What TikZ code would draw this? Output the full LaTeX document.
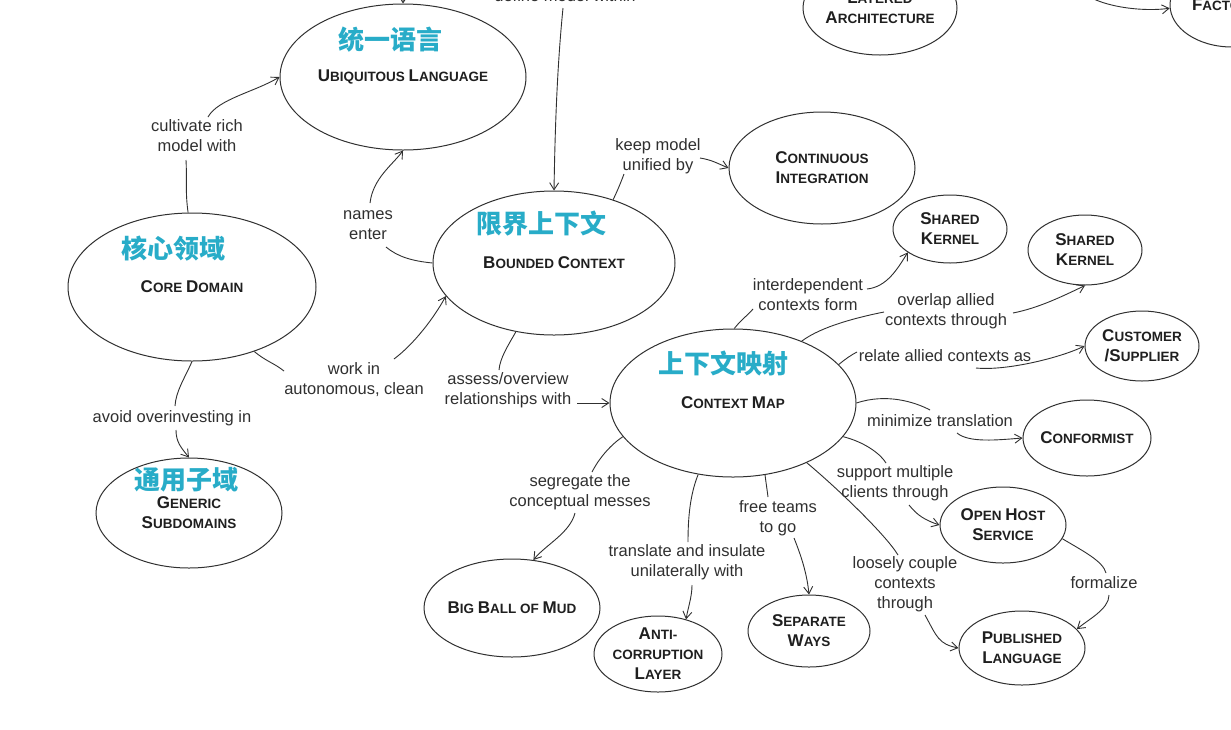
\documentclass[tikz,border=0pt]{standalone}
\usepackage{fontspec}
\setmainfont{Liberation Sans}
\newfontfamily\cjk{Noto Sans CJK SC}
\usetikzlibrary{arrows.meta,calc,shapes.geometric}
\definecolor{zh}{RGB}{40,172,200}
\definecolor{ink}{RGB}{48,48,48}
\newcommand\ttl[2]{{\fontsize{17}{20}\selectfont #1}{\fontsize{13.5}{20}\selectfont #2}}
\begin{document}
\begin{tikzpicture}[x=1pt,y=-1pt,
  ent/.style={ellipse,draw=ink,line width=1pt,inner sep=-10pt,align=center,font=\bfseries\fontsize{13.5}{20}\selectfont,text=black!88},
  lbl/.style={align=center,inner sep=0pt,font=\fontsize{16.5}{20}\selectfont,text=ink},
  zhl/.style={font=\cjk\bfseries\fontsize{26}{30}\selectfont,text=zh,inner sep=0pt},
  con/.style={draw=ink,line width=0.9pt},
  arr/.style={con,-{Straight Barb[length=7pt,width=9pt]}}]
\useasboundingbox (0,0) rectangle (1231,729);
\fill[white] (0,0) rectangle (1231,729);
\clip (0,0) rectangle (1231,729);

% entities
\node[ent,minimum width=246pt,minimum height=146pt] (ul) at (403,77) {\ttl{U}{BIQUITOUS} \ttl{L}{ANGUAGE}};
\node[ent,minimum width=248pt,minimum height=148pt] (cd) at (192,287) {\ttl{C}{ORE} \ttl{D}{OMAIN}};
\node[ent,minimum width=186pt,minimum height=110pt] (gs) at (189,513) {\ttl{G}{ENERIC}\\\ttl{S}{UBDOMAINS}};
\node[ent,minimum width=242pt,minimum height=144pt] (bc) at (554,263) {\ttl{B}{OUNDED} \ttl{C}{ONTEXT}};
\node[ent,minimum width=186pt,minimum height=112pt] (ci) at (822,168) {\ttl{C}{ONTINUOUS}\\\ttl{I}{NTEGRATION}};
\node[ent,minimum width=154pt,minimum height=94pt] (la) at (880,8) {\ttl{L}{AYERED}\\\ttl{A}{RCHITECTURE}};
\node[ent,minimum width=124pt,minimum height=84pt] (fa) at (1232,5) {\ttl{F}{ACTORIES}};
\node[ent,minimum width=114pt,minimum height=68pt] (sk1) at (950,229) {\ttl{S}{HARED}\\\ttl{K}{ERNEL}};
\node[ent,minimum width=114pt,minimum height=70pt] (sk2) at (1085,250) {\ttl{S}{HARED}\\\ttl{K}{ERNEL}};
\node[ent,minimum width=114pt,minimum height=70pt] (cs) at (1142,346) {\ttl{C}{USTOMER}\\\ttl{/S}{UPPLIER}};
\node[ent,minimum width=128pt,minimum height=76pt] (cf) at (1087,438) {\ttl{C}{ONFORMIST}};
\node[ent,minimum width=246pt,minimum height=148pt] (cm) at (733,403) {\ttl{C}{ONTEXT} \ttl{M}{AP}};
\node[ent,minimum width=126pt,minimum height=76pt] (ohs) at (1003,525) {\ttl{O}{PEN} \ttl{H}{OST}\\\ttl{S}{ERVICE}};
\node[ent,minimum width=126pt,minimum height=74pt] (pl) at (1022,648) {\ttl{P}{UBLISHED}\\\ttl{L}{ANGUAGE}};
\node[ent,minimum width=122pt,minimum height=72pt] (sw) at (809,631) {\ttl{S}{EPARATE}\\\ttl{W}{AYS}};
\node[ent,minimum width=128pt,minimum height=76pt] (acl) at (658,654) {\ttl{A}{NTI-}\\\ttl{}{CORRUPTION}\\\ttl{L}{AYER}};
\node[ent,minimum width=176pt,minimum height=98pt] (bbm) at (512,608) {\ttl{B}{IG} \ttl{B}{ALL} \ttl{}{OF} \ttl{M}{UD}};

% chinese titles
\node[zhl] (ulz) at (390,40) {统一语言};
\node[zhl] (cdz) at (173,249) {核心领域};
\node[zhl] (gsz) at (186,480) {通用子域};
\node[zhl] (bcz) at (541,224) {限界上下文};
\node[zhl] (cmz) at (723,363) {上下文映射};

% labels
\node[lbl] (l1) at (197,136) {cultivate rich\\model with};
\node[lbl] (l2) at (368,225) {names\\enter};
\node[lbl] (l3) at (354,380) {work in\\autonomous, clean};
\node[lbl] (l4) at (172,418) {avoid overinvesting in};
\node[lbl] (l5) at (565,-4) {define model within};
\node[lbl] (l6) at (658,156) {keep model\\unified by};
\node[lbl] (l7) at (508,390) {assess/overview\\relationships with};
\node[lbl] (l8) at (808,295) {interdependent\\contexts form};
\node[lbl] (l9) at (946,311) {overlap allied\\contexts through};
\node[lbl] (l10) at (945,356) {relate allied contexts as};
\node[lbl] (l11) at (940,421) {minimize translation};
\node[lbl] (l12) at (895,483) {support multiple\\clients through};
\node[lbl] (l13) at (905,584) {loosely couple\\contexts\\through};
\node[lbl] (l14) at (1104,583) {formalize};
\node[lbl] (l15) at (778,518) {free teams\\to go};
\node[lbl] (l16) at (687,562) {translate and insulate\\unilaterally with};
\node[lbl] (l17) at (580,492) {segregate the\\conceptual messes};

% connectors
\draw[con] (cd.93) .. controls +(-3,-20) and +(1,15) .. ($(l1)+(-11,24)$);
\draw[arr] ($(l1)+(11,-19)$) .. controls +(10,-18) and +(-25,15) .. (ul.180);

\draw[con] (bc.180) .. controls +(-20,-2) and +(12,10) .. ($(l2)+(18,22)$);
\draw[arr] ($(l2)+(2,-22)$) .. controls +(3,-25) and +(-10,14) .. (ul.-90);

\draw[con] (cd.-46) .. controls +(12,10) and +(-10,-8) .. ($(l3)+(-70,-9)$);
\draw[arr] ($(l3)+(40,-21)$) .. controls +(20,-15) and +(-12,22) .. (bc.197);

\draw[con] (cd.-90) .. controls +(-8,18) and +(1,-15) .. ($(l4)+(3,-12)$);
\draw[arr] ($(l4)+(4,12)$) .. controls +(0,12) and +(-8,-10) .. (gs.90);

\draw[arr] ($(l5)+(-2,12)$) .. controls +(-6,60) and +(1,-60) .. (bc.90);

\draw[con] (bc.47) .. controls +(4,-8) and +(-3,8) .. ($(l6)+(-34,18)$);
\draw[arr] ($(l6)+(42,2)$) .. controls +(12,2) and +(-12,-5) .. (ci.180);

\draw[con] (bc.241) .. controls +(-8,14) and +(1,-12) .. ($(l7)+(-9,-20)$);
\draw[arr] ($(l7)+(69,13)$) -- (cm.180);

\draw[con] (cm.89) .. controls +(6,-8) and +(-5,6) .. ($(l8)+(-55,14)$);
\draw[arr] ($(l8)+(59,-6)$) .. controls +(20,-2) and +(-10,16) .. (sk1.209);

\draw[con] (cm.42) .. controls +(20,-15) and +(-25,5) .. ($(l9)+(-62,1)$);
\draw[arr] ($(l9)+(67,2)$) .. controls +(25,-5) and +(-25,12) .. (sk2.-90);

\draw[con] (cm.20) .. controls +(6,-5) and +(-6,3) .. ($(l10)+(-88,-4)$);
\draw[arr] ($(l10)+(31,12)$) .. controls +(30,3) and +(-25,12) .. (cs.180);

\draw[con] (cm.0) .. controls +(30,-10) and +(-15,-8) .. ($(l11)+(-10,-11)$);
\draw[arr] ($(l11)+(17,12)$) .. controls +(12,10) and +(-25,2) .. (cf.180);

\draw[con] (cm.-17) .. controls +(20,5) and +(-6,-10) .. ($(l12)+(-9,-20)$);
\draw[arr] ($(l12)+(14,22)$) .. controls +(8,10) and +(-15,-5) .. (ohs.180);

\draw[con] (cm.-39) .. controls +(30,25) and +(-12,-20) .. ($(l13)+(-7,-29)$);
\draw[arr] ($(l13)+(20,31)$) .. controls +(12,22) and +(-20,-4) .. (pl.180);

\draw[con] (ohs.-13) .. controls +(20,12) and +(-3,-12) .. ($(l14)+(2,-10)$);
\draw[arr] ($(l14)+(5,12)$) .. controls +(0,14) and +(12,-10) .. (pl.19);

\draw[con] (cm.-66) .. controls +(1,8) and +(-1,-8) .. ($(l15)+(-10,-21)$);
\draw[arr] ($(l15)+(16,20)$) .. controls +(8,20) and +(-2,-20) .. (sw.90);

\draw[con] (cm.244) .. controls +(-8,20) and +(0,-25) .. ($(l16)+(1,-20)$);
\draw[arr] ($(l16)+(5,23)$) .. controls +(0,12) and +(2,-12) .. (acl.51);

\draw[con] (cm.197) .. controls +(-15,10) and +(5,-10) .. ($(l17)+(12,-20)$);
\draw[arr] ($(l17)+(-5,21)$) .. controls +(-5,20) and +(12,-15) .. (bbm.66);

% partly visible connectors at the top edge
\coordinate (utop) at (404,-40);
\draw[arr] (utop) -- (ul.90);
\coordinate (fsrc) at (1078,-12);
\draw[arr] (fsrc) .. controls +(15,18) and +(-30,4) .. (fa.183);
\end{tikzpicture}
\end{document}
